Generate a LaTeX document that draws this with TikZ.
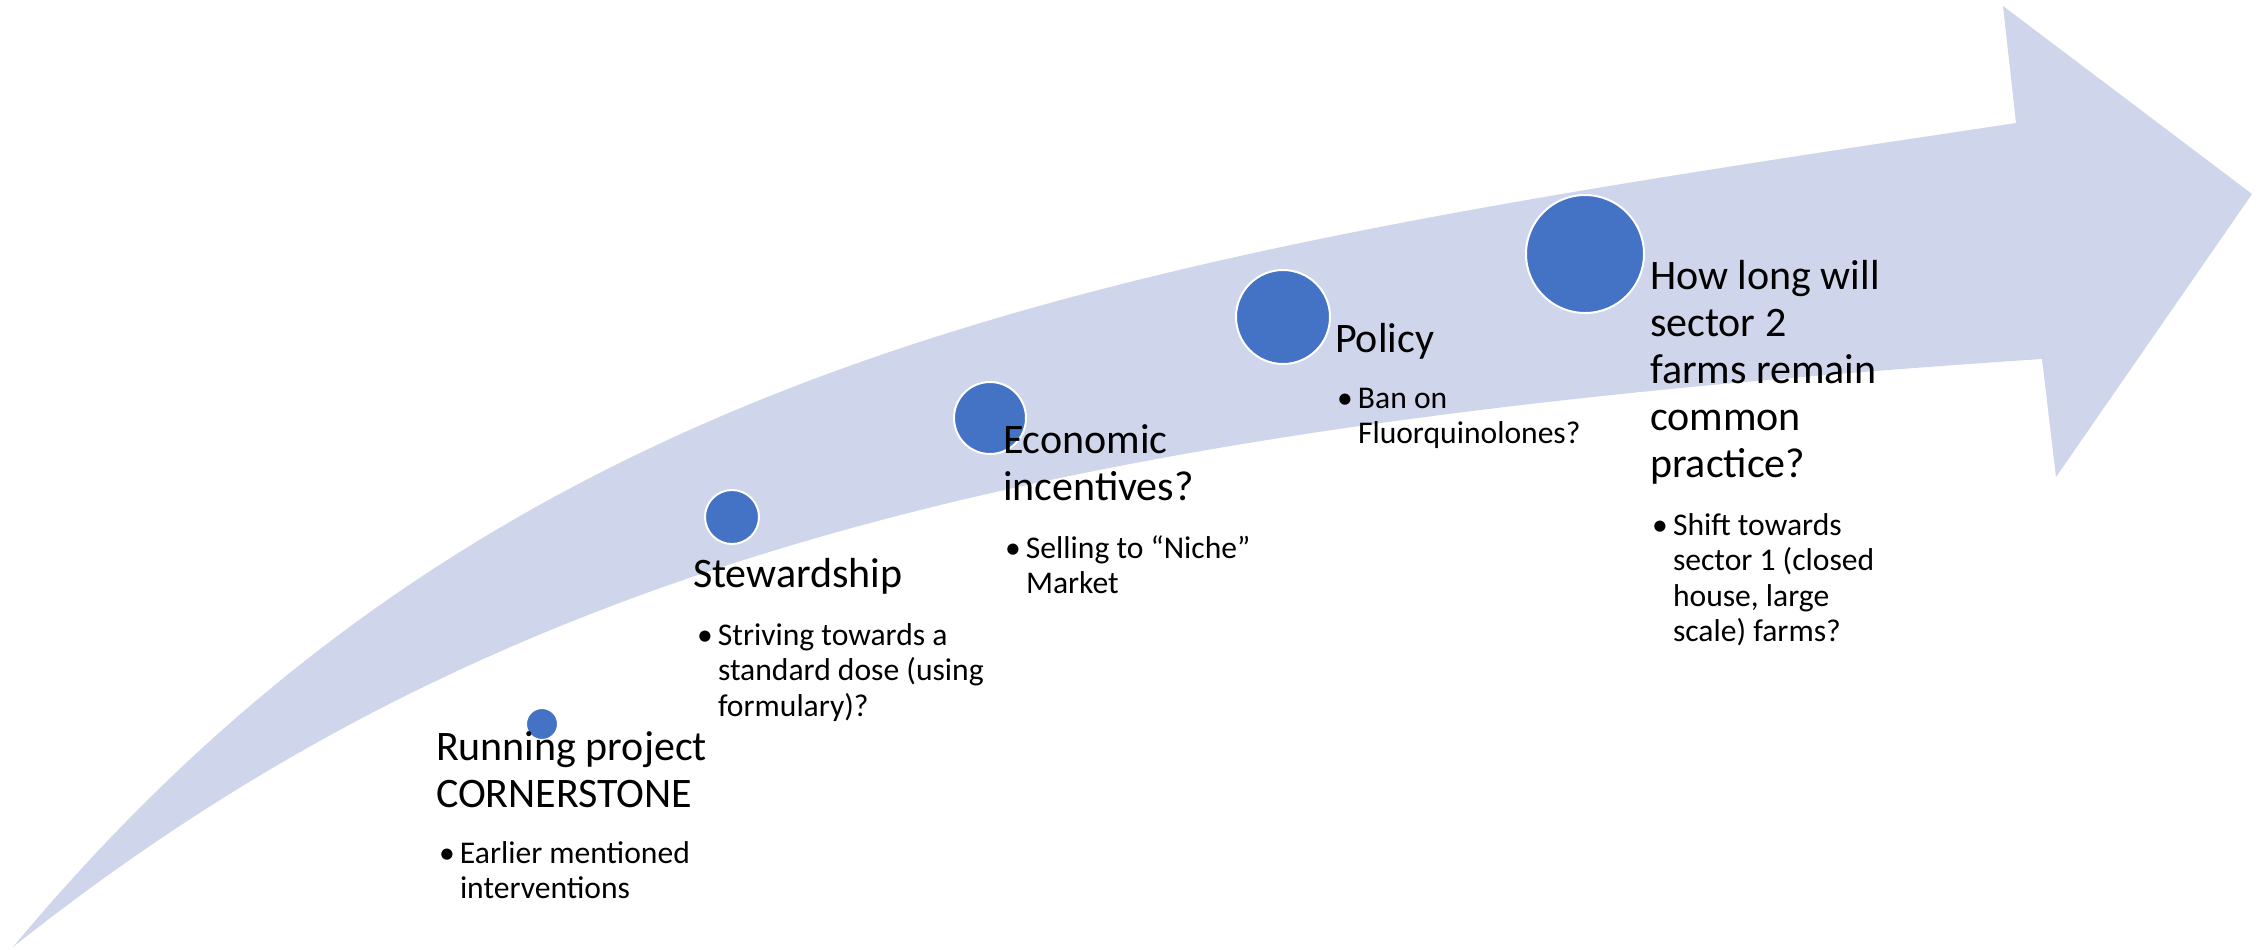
\documentclass[tikz,border=0pt]{standalone}
\usepackage{fontspec}
\setmainfont{Carlito}
\definecolor{band}{HTML}{CFD5EA}
\definecolor{dot}{HTML}{4472C4}
\newcommand\hdfont{\fontsize{21pt}{23.5pt}\selectfont}
\newcommand\bufont{\fontsize{15.8pt}{17.75pt}\selectfont}
\newcommand\bl[1]{\hbox{\makebox[10.5pt][l]{•}#1}}
\newcommand\bc[1]{\hbox{\hspace*{10.5pt}#1}}
\newcommand\hl[1]{\hbox{#1}}
\tikzset{
  txt/.style={inner sep=0pt, outer sep=0pt, anchor=base west, text=black},
  milestone/.style={circle, fill=dot, draw=white, line width=1pt, inner sep=0pt}
}
\begin{document}
\begin{tikzpicture}[x=0.5pt, y=-0.5pt]
\useasboundingbox (0,0) rectangle (2260,949);
% curved arrow
\fill[band] (13,947) .. controls (513,347) and (1116,258) .. (2016,123)
  -- (2003,6) -- (2252,194) -- (2056,477) -- (2042,359)
  .. controls (1042,425) and (500,560) .. (13,947) -- cycle;
% milestones
\node[milestone, minimum size=16pt] (c1) at (542,724) {};
\node[milestone, minimum size=27pt] (c2) at (732,517) {};
\node[milestone, minimum size=36pt] (c3) at (990,418) {};
\node[milestone, minimum size=47pt] (c4) at (1283,317) {};
\node[milestone, minimum size=59pt] (c5) at (1585,254) {};
% texts
\node[txt] (h1) at (436,760) {\vtop{\hdfont\hl{Running project}\hl{CORNERSTONE}}};
\node[txt] (b1) at (439,863) {\vtop{\bufont\bl{Earlier mentioned}\bc{interventions}}};
\node[txt] (h2) at (693,587) {\vtop{\hdfont\hl{Stewardship}}};
\node[txt] (b2) at (697,645) {\vtop{\bufont\bl{Striving towards a}\bc{standard dose (using}\bc{formulary)?}}};
\node[txt] (h3) at (1003,453) {\vtop{\hdfont\hl{Economic}\hl{incentives?}}};
\node[txt] (b3) at (1005,558) {\vtop{\bufont\bl{Selling to “Niche”}\bc{Market}}};
\node[txt] (h4) at (1335,352) {\vtop{\hdfont\hl{Policy}}};
\node[txt] (b4) at (1337,408) {\vtop{\bufont\bl{Ban on}\bc{Fluorquinolones?}}};
\node[txt] (h5) at (1650,289) {\vtop{\hdfont\hl{How long will}\hl{sector 2}\hl{farms remain}\hl{common}\hl{practice?}}};
\node[txt] (b5) at (1652,535) {\vtop{\bufont\bl{Shift towards}\bc{sector 1 (closed}\bc{house, large}\bc{scale) farms?}}};
\end{tikzpicture}
\end{document}
